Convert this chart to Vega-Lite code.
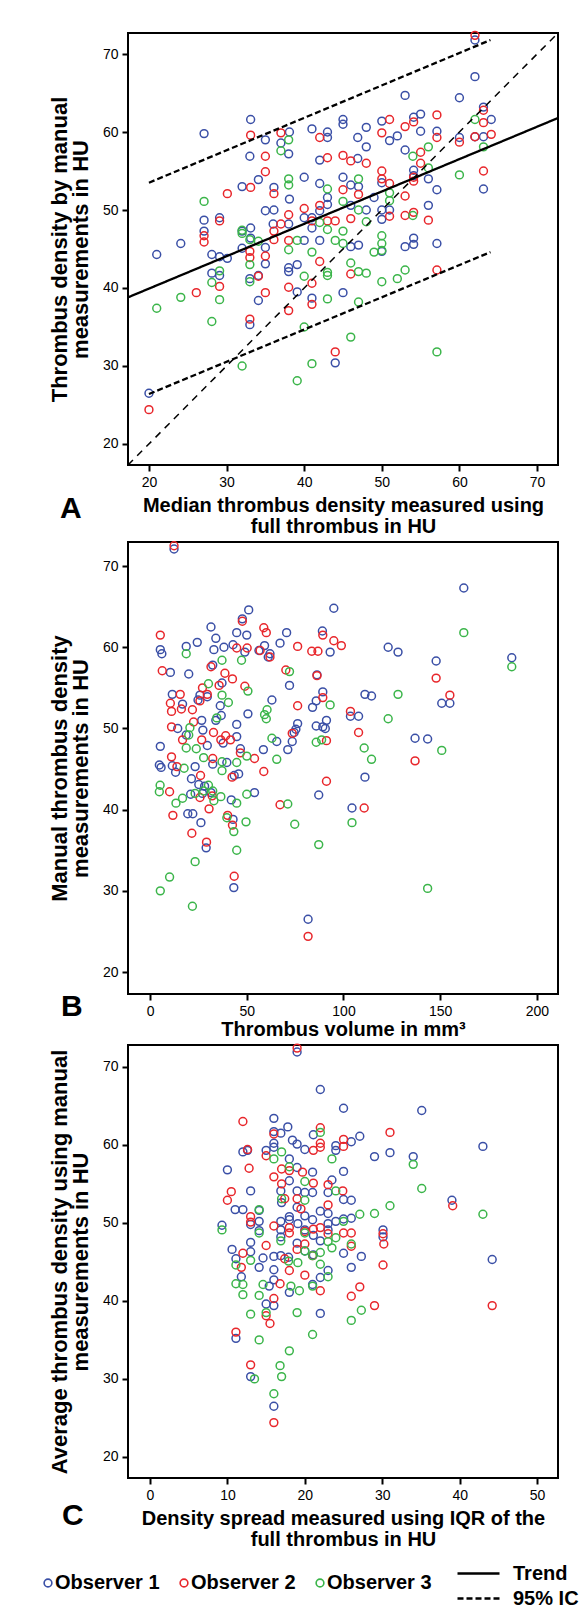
{
"$schema": "https://vega.github.io/schema/vega-lite/v6.json",
"padding": {"left": 38, "top": 27, "right": 4, "bottom": 2},
"background": "white",
"spacing": 0,
"config": {
  "font": "Liberation Sans",
  "view": {"stroke": "black", "strokeWidth": 2},
  "axis": {"grid": false, "domain": false, "tickColor": "black", "tickSize": 6, "tickWidth": 2, "labelFont": "Liberation Sans", "labelFontSize": 14, "labelColor": "black", "labelPadding": 4, "labelFlush": false, "titleFont": "Liberation Sans", "titleFontWeight": "bold", "titleColor": "black"},
  "axisX": {"titleFontSize": 20, "titleLineHeight": 21, "titlePadding": 6},
  "axisY": {"titleFontSize": 22, "titleLineHeight": 21, "titlePadding": 10},
  "legend": {"labelFont": "Liberation Sans", "labelFontSize": 20, "labelFontWeight": "bold", "labelColor": "black", "padding": 0, "titlePadding": 0},
  "title": {"font": "Liberation Sans", "fontSize": 30, "fontWeight": "bold", "color": "black", "orient": "bottom", "anchor": "start", "frame": "group", "offset": 0}
},
"datasets": {
"lines": [
 {"id": "trend", "type": "Trend", "x": 17.3, "y": 38.8},
 {"id": "trend", "type": "Trend", "x": 72.7, "y": 61.8},
 {"id": "up", "type": "95% IC", "x": 20, "y": 53.5},
 {"id": "up", "type": "95% IC", "x": 64, "y": 71.8},
 {"id": "lo", "type": "95% IC", "x": 20, "y": 26.4},
 {"id": "lo", "type": "95% IC", "x": 64, "y": 44.6}
],
"ident": [
 {"x": 17.3, "y": 17.3},
 {"x": 72.7, "y": 72.7}
],
"A": [
{"o":1,"x":21,"y":44.3},{"o":1,"x":24.1,"y":45.7},{"o":1,"x":27.1,"y":59.8},{"o":1,"x":33.1,"y":61.6},{"o":1,"x":33,"y":56.9},{"o":1,"x":32,"y":53},{"o":1,"x":34.1,"y":53.9},{"o":1,"x":35,"y":49.9},{"o":1,"x":36.1,"y":50},{"o":1,"x":29.1,"y":49},{"o":1,"x":27.1,"y":48.7},{"o":1,"x":27.1,"y":47.3},{"o":1,"x":35,"y":59},{"o":1,"x":37,"y":58.6},{"o":1,"x":38.1,"y":60},{"o":1,"x":38,"y":57.2},{"o":1,"x":36.1,"y":52.9},{"o":1,"x":38.1,"y":51.4},{"o":1,"x":40,"y":54.2},{"o":1,"x":41,"y":60.4},{"o":1,"x":43,"y":60},{"o":1,"x":43,"y":59.3},{"o":1,"x":42,"y":56.4},{"o":1,"x":42,"y":53.4},{"o":1,"x":45,"y":61.6},{"o":1,"x":45,"y":61},{"o":1,"x":46.9,"y":59.3},{"o":1,"x":48,"y":60.6},{"o":1,"x":48,"y":58.1},{"o":1,"x":46.9,"y":56.6},{"o":1,"x":45,"y":54.2},{"o":1,"x":46,"y":53.2},{"o":1,"x":47,"y":53},{"o":1,"x":50,"y":61.4},{"o":1,"x":51,"y":58.9},{"o":1,"x":52,"y":59.5},{"o":1,"x":53,"y":64.7},{"o":1,"x":53,"y":57.7},{"o":1,"x":54.1,"y":61.9},{"o":1,"x":55,"y":62.3},{"o":1,"x":55,"y":60.1},{"o":1,"x":57.1,"y":60.1},{"o":1,"x":54.1,"y":55.1},{"o":1,"x":54.1,"y":54.4},{"o":1,"x":56,"y":54},{"o":1,"x":57.1,"y":52.6},{"o":1,"x":50,"y":53.5},{"o":1,"x":50,"y":50},{"o":1,"x":51,"y":50},{"o":1,"x":49,"y":51.6},{"o":1,"x":48,"y":50},{"o":1,"x":46,"y":50.6},{"o":1,"x":43,"y":51.6},{"o":1,"x":43,"y":50.7},{"o":1,"x":42,"y":49.9},{"o":1,"x":41,"y":49},{"o":1,"x":40,"y":49},{"o":1,"x":41,"y":47.7},{"o":1,"x":36,"y":48.2},{"o":1,"x":38,"y":48.2},{"o":1,"x":32,"y":47.3},{"o":1,"x":33.1,"y":47.7},{"o":1,"x":50,"y":48.8},{"o":1,"x":56,"y":50.6},{"o":1,"x":60,"y":64.4},{"o":1,"x":60,"y":59.3},{"o":1,"x":62,"y":67.1},{"o":1,"x":62,"y":59.4},{"o":1,"x":63.1,"y":63.2},{"o":1,"x":63.1,"y":59.4},{"o":1,"x":64.1,"y":61.6},{"o":1,"x":63.1,"y":52.7},{"o":1,"x":62,"y":71.8},{"o":1,"x":40,"y":46.1},{"o":1,"x":42,"y":46.1},{"o":1,"x":46,"y":45.3},{"o":1,"x":47,"y":45.5},{"o":1,"x":53,"y":45.3},{"o":1,"x":54.1,"y":45.6},{"o":1,"x":54.1,"y":46.4},{"o":1,"x":57.1,"y":45.7},{"o":1,"x":50,"y":44.7},{"o":1,"x":32,"y":45.1},{"o":1,"x":33.1,"y":46.4},{"o":1,"x":35,"y":45.2},{"o":1,"x":28.1,"y":44.3},{"o":1,"x":29.1,"y":44},{"o":1,"x":30.1,"y":43.8},{"o":1,"x":35,"y":43.1},{"o":1,"x":28.1,"y":41.9},{"o":1,"x":29.1,"y":41.6},{"o":1,"x":33,"y":41.2},{"o":1,"x":34.1,"y":41.6},{"o":1,"x":38,"y":42.6},{"o":1,"x":38,"y":42.1},{"o":1,"x":39.1,"y":43},{"o":1,"x":34.1,"y":38.4},{"o":1,"x":39.1,"y":39.5},{"o":1,"x":41,"y":38.7},{"o":1,"x":45,"y":39.4},{"o":1,"x":33,"y":35.3},{"o":1,"x":44,"y":30.4},{"o":1,"x":20,"y":26.5},
{"o":2,"x":27.1,"y":46.7},{"o":2,"x":27.1,"y":45.9},{"o":2,"x":29.1,"y":48.6},{"o":2,"x":30.1,"y":52.1},{"o":2,"x":33.1,"y":59.6},{"o":2,"x":33.1,"y":52.9},{"o":2,"x":35,"y":56.9},{"o":2,"x":35,"y":54.9},{"o":2,"x":36.1,"y":52.1},{"o":2,"x":37,"y":59.9},{"o":2,"x":36.1,"y":47.3},{"o":2,"x":36.1,"y":46.2},{"o":2,"x":37,"y":48.2},{"o":2,"x":38,"y":49.4},{"o":2,"x":38,"y":46.1},{"o":2,"x":40,"y":50.2},{"o":2,"x":42,"y":59.3},{"o":2,"x":43,"y":56.7},{"o":2,"x":42,"y":50.6},{"o":2,"x":41,"y":48.6},{"o":2,"x":43,"y":48.6},{"o":2,"x":44,"y":48.6},{"o":2,"x":45,"y":57},{"o":2,"x":46,"y":56.3},{"o":2,"x":48,"y":56},{"o":2,"x":45,"y":52.6},{"o":2,"x":47,"y":52},{"o":2,"x":46,"y":48.9},{"o":2,"x":50,"y":59.9},{"o":2,"x":51,"y":61.6},{"o":2,"x":50,"y":55},{"o":2,"x":50,"y":54},{"o":2,"x":51,"y":53.4},{"o":2,"x":51,"y":49.2},{"o":2,"x":53,"y":60.7},{"o":2,"x":54.1,"y":61.3},{"o":2,"x":54.1,"y":54.2},{"o":2,"x":54.1,"y":53.7},{"o":2,"x":53,"y":51.8},{"o":2,"x":53,"y":49.3},{"o":2,"x":54.1,"y":49.7},{"o":2,"x":55,"y":57.4},{"o":2,"x":55,"y":56},{"o":2,"x":57.1,"y":62.2},{"o":2,"x":57.1,"y":59.3},{"o":2,"x":56,"y":48.7},{"o":2,"x":60,"y":58.7},{"o":2,"x":62,"y":72.4},{"o":2,"x":62,"y":59.4},{"o":2,"x":63.1,"y":62.8},{"o":2,"x":63.1,"y":61.2},{"o":2,"x":64.1,"y":59.7},{"o":2,"x":63.1,"y":55},{"o":2,"x":35,"y":44.1},{"o":2,"x":33,"y":44.7},{"o":2,"x":33,"y":43.9},{"o":2,"x":34.1,"y":41.5},{"o":2,"x":35,"y":39.4},{"o":2,"x":38,"y":40.1},{"o":2,"x":41,"y":40.6},{"o":2,"x":42,"y":43.4},{"o":2,"x":46,"y":41.8},{"o":2,"x":26.1,"y":39.4},{"o":2,"x":29.1,"y":40.2},{"o":2,"x":33,"y":36},{"o":2,"x":38,"y":37.1},{"o":2,"x":41,"y":37.9},{"o":2,"x":44,"y":31.8},{"o":2,"x":57.1,"y":42.3},{"o":2,"x":20,"y":24.4},
{"o":3,"x":27.1,"y":51.1},{"o":3,"x":37,"y":57.6},{"o":3,"x":38,"y":59},{"o":3,"x":38,"y":54},{"o":3,"x":38,"y":53.2},{"o":3,"x":32,"y":47.4},{"o":3,"x":32,"y":47},{"o":3,"x":33,"y":46.2},{"o":3,"x":34.1,"y":46},{"o":3,"x":38,"y":44.9},{"o":3,"x":39.1,"y":46.1},{"o":3,"x":41,"y":44.6},{"o":3,"x":42,"y":48.4},{"o":3,"x":43,"y":52.7},{"o":3,"x":43,"y":47.5},{"o":3,"x":44,"y":46.1},{"o":3,"x":45,"y":51.1},{"o":3,"x":45,"y":47.3},{"o":3,"x":45,"y":45.7},{"o":3,"x":47,"y":54},{"o":3,"x":47,"y":50},{"o":3,"x":48,"y":48.5},{"o":3,"x":49,"y":44.6},{"o":3,"x":50,"y":46.7},{"o":3,"x":50,"y":45.7},{"o":3,"x":50,"y":44.8},{"o":3,"x":51,"y":52.2},{"o":3,"x":51,"y":51.2},{"o":3,"x":54,"y":56.9},{"o":3,"x":54,"y":49.3},{"o":3,"x":56,"y":58.1},{"o":3,"x":56,"y":55.4},{"o":3,"x":60,"y":54.5},{"o":3,"x":62,"y":61.6},{"o":3,"x":63.1,"y":58.1},{"o":3,"x":21,"y":37.4},{"o":3,"x":24.1,"y":38.8},{"o":3,"x":28.1,"y":40.7},{"o":3,"x":28.1,"y":35.7},{"o":3,"x":29.1,"y":42.2},{"o":3,"x":29.1,"y":38.5},{"o":3,"x":33,"y":43},{"o":3,"x":33,"y":40.8},{"o":3,"x":32,"y":30},{"o":3,"x":40,"y":41.5},{"o":3,"x":40,"y":35},{"o":3,"x":41,"y":30.3},{"o":3,"x":39.1,"y":28.1},{"o":3,"x":43,"y":42},{"o":3,"x":43,"y":41.6},{"o":3,"x":43,"y":38.6},{"o":3,"x":46,"y":43.2},{"o":3,"x":46,"y":33.7},{"o":3,"x":47,"y":42.1},{"o":3,"x":48,"y":41.9},{"o":3,"x":47,"y":38.2},{"o":3,"x":52,"y":41.2},{"o":3,"x":53,"y":42.3},{"o":3,"x":50,"y":40.8},{"o":3,"x":57.1,"y":31.8}
],
"B": [
{"o":1,"x":12.4,"y":72.1},{"o":1,"x":162.2,"y":67.3},{"o":1,"x":95,"y":64.8},{"o":1,"x":51,"y":64.6},{"o":1,"x":47.7,"y":63.5},{"o":1,"x":31.5,"y":62.5},{"o":1,"x":34,"y":61.1},{"o":1,"x":44.8,"y":61.8},{"o":1,"x":50,"y":61.5},{"o":1,"x":70.6,"y":61.8},{"o":1,"x":89.1,"y":62},{"o":1,"x":5.3,"y":59.7},{"o":1,"x":6.1,"y":59.2},{"o":1,"x":18.7,"y":60.1},{"o":1,"x":24.4,"y":60.6},{"o":1,"x":33,"y":59.7},{"o":1,"x":38.2,"y":60},{"o":1,"x":42.9,"y":60.3},{"o":1,"x":49,"y":59.4},{"o":1,"x":56.3,"y":59.6},{"o":1,"x":59.2,"y":60.2},{"o":1,"x":62,"y":59.2},{"o":1,"x":61.1,"y":58.8},{"o":1,"x":67.2,"y":60.5},{"o":1,"x":93.1,"y":59.4},{"o":1,"x":123.1,"y":60},{"o":1,"x":128.2,"y":59.4},{"o":1,"x":147.9,"y":58.3},{"o":1,"x":187,"y":58.7},{"o":1,"x":10.5,"y":56.9},{"o":1,"x":20,"y":56.7},{"o":1,"x":32.4,"y":57.8},{"o":1,"x":37.2,"y":55.6},{"o":1,"x":72.1,"y":55.3},{"o":1,"x":86.3,"y":56.6},{"o":1,"x":11.5,"y":54.2},{"o":1,"x":16.8,"y":53},{"o":1,"x":25.8,"y":54.1},{"o":1,"x":29.6,"y":53.9},{"o":1,"x":24.8,"y":53.5},{"o":1,"x":36.3,"y":52.8},{"o":1,"x":36.8,"y":51.6},{"o":1,"x":50.6,"y":51.8},{"o":1,"x":63,"y":53.5},{"o":1,"x":84,"y":52.6},{"o":1,"x":85.9,"y":53.4},{"o":1,"x":89.3,"y":54.5},{"o":1,"x":111.1,"y":54.2},{"o":1,"x":114.5,"y":54},{"o":1,"x":150.8,"y":53.1},{"o":1,"x":155,"y":53.1},{"o":1,"x":103.6,"y":51.5},{"o":1,"x":107.8,"y":51.5},{"o":1,"x":26.7,"y":51},{"o":1,"x":34,"y":51},{"o":1,"x":44.8,"y":50.5},{"o":1,"x":75.4,"y":49.9},{"o":1,"x":76.3,"y":50.6},{"o":1,"x":85.9,"y":50.3},{"o":1,"x":89.3,"y":50.2},{"o":1,"x":91.2,"y":51},{"o":1,"x":90.6,"y":50},{"o":1,"x":5.3,"y":47.8},{"o":1,"x":137,"y":48.8},{"o":1,"x":143.5,"y":48.7},{"o":1,"x":14.3,"y":50},{"o":1,"x":18.7,"y":49.2},{"o":1,"x":27.3,"y":49.8},{"o":1,"x":29.6,"y":47.9},{"o":1,"x":37.8,"y":48.2},{"o":1,"x":44.8,"y":49},{"o":1,"x":46.7,"y":47.5},{"o":1,"x":58.6,"y":47.4},{"o":1,"x":65.5,"y":48.4},{"o":1,"x":71.2,"y":47.4},{"o":1,"x":73.5,"y":48.4},{"o":1,"x":74.5,"y":49.5},{"o":1,"x":4.8,"y":45.5},{"o":1,"x":5.7,"y":45.2},{"o":1,"x":32.4,"y":45.6},{"o":1,"x":39.7,"y":45.8},{"o":1,"x":45.8,"y":44.4},{"o":1,"x":111.1,"y":44},{"o":1,"x":11.5,"y":45.4},{"o":1,"x":13.2,"y":44.6},{"o":1,"x":23.3,"y":45.3},{"o":1,"x":21.4,"y":43.8},{"o":1,"x":25.2,"y":43.1},{"o":1,"x":28.2,"y":42.9},{"o":1,"x":21,"y":41.9},{"o":1,"x":27.1,"y":42},{"o":1,"x":31.5,"y":42.1},{"o":1,"x":42,"y":41.2},{"o":1,"x":43.5,"y":44.2},{"o":1,"x":54,"y":42.1},{"o":1,"x":87.2,"y":41.8},{"o":1,"x":104.4,"y":40.2},{"o":1,"x":19.5,"y":39.5},{"o":1,"x":22.1,"y":39.5},{"o":1,"x":26.3,"y":38.4},{"o":1,"x":42.9,"y":38.8},{"o":1,"x":29,"y":35.3},{"o":1,"x":43.3,"y":30.4},{"o":1,"x":81.7,"y":26.5},
{"o":2,"x":12.4,"y":72.5},{"o":2,"x":5.3,"y":61.5},{"o":2,"x":47.7,"y":63.2},{"o":2,"x":58.8,"y":62.4},{"o":2,"x":60.1,"y":61.8},{"o":2,"x":44.8,"y":59.9},{"o":2,"x":50.2,"y":59.9},{"o":2,"x":56.9,"y":59.6},{"o":2,"x":62,"y":58.8},{"o":2,"x":76.3,"y":60.1},{"o":2,"x":83.6,"y":59.5},{"o":2,"x":86.8,"y":59.5},{"o":2,"x":89.3,"y":61.5},{"o":2,"x":95,"y":60.8},{"o":2,"x":98.9,"y":60.2},{"o":2,"x":6.3,"y":57.1},{"o":2,"x":31.5,"y":57.6},{"o":2,"x":38.7,"y":56.8},{"o":2,"x":42.6,"y":56.1},{"o":2,"x":49,"y":55.2},{"o":2,"x":70.2,"y":57.2},{"o":2,"x":86.3,"y":56.5},{"o":2,"x":147.9,"y":56.2},{"o":2,"x":155,"y":54.1},{"o":2,"x":15.6,"y":54.2},{"o":2,"x":10.5,"y":53.1},{"o":2,"x":11.1,"y":52.1},{"o":2,"x":16.2,"y":52.4},{"o":2,"x":21.9,"y":52.3},{"o":2,"x":27.1,"y":55},{"o":2,"x":29.6,"y":54.2},{"o":2,"x":35.7,"y":55.3},{"o":2,"x":25.8,"y":53.4},{"o":2,"x":76.3,"y":52.8},{"o":2,"x":89.3,"y":53.8},{"o":2,"x":103.6,"y":52.1},{"o":2,"x":11.1,"y":50.2},{"o":2,"x":22.5,"y":50.8},{"o":2,"x":16.8,"y":48.6},{"o":2,"x":26.7,"y":48.6},{"o":2,"x":32.8,"y":49.5},{"o":2,"x":36.6,"y":48.6},{"o":2,"x":39.1,"y":49.1},{"o":2,"x":41.6,"y":48.6},{"o":2,"x":73.5,"y":49.4},{"o":2,"x":91.2,"y":48.5},{"o":2,"x":107.8,"y":49.5},{"o":2,"x":11.1,"y":46.5},{"o":2,"x":32.4,"y":46.3},{"o":2,"x":46.7,"y":47},{"o":2,"x":54,"y":46.3},{"o":2,"x":137,"y":46},{"o":2,"x":58.8,"y":44.7},{"o":2,"x":42.4,"y":44},{"o":2,"x":91.2,"y":43.5},{"o":2,"x":26.1,"y":44.2},{"o":2,"x":13.9,"y":45.3},{"o":2,"x":10.1,"y":42.2},{"o":2,"x":25.8,"y":41.5},{"o":2,"x":32.1,"y":41.7},{"o":2,"x":30.5,"y":40.1},{"o":2,"x":11.8,"y":39.3},{"o":2,"x":40.1,"y":39.3},{"o":2,"x":42.6,"y":38.1},{"o":2,"x":67.2,"y":40.6},{"o":2,"x":110.7,"y":40.2},{"o":2,"x":21.6,"y":37.1},{"o":2,"x":29.2,"y":36},{"o":2,"x":43.5,"y":31.8},{"o":2,"x":81.7,"y":24.4},
{"o":3,"x":162.2,"y":61.8},{"o":3,"x":18.7,"y":59.2},{"o":3,"x":37.2,"y":58.4},{"o":3,"x":47.3,"y":58.4},{"o":3,"x":72.1,"y":57},{"o":3,"x":187,"y":57.6},{"o":3,"x":30.2,"y":55.5},{"o":3,"x":37.2,"y":54.1},{"o":3,"x":50.6,"y":54.6},{"o":3,"x":40.5,"y":53.2},{"o":3,"x":128.2,"y":54.2},{"o":3,"x":93.1,"y":52.9},{"o":3,"x":59.2,"y":51.7},{"o":3,"x":60.5,"y":52.3},{"o":3,"x":60.1,"y":51.2},{"o":3,"x":34.5,"y":51.3},{"o":3,"x":20.6,"y":50.1},{"o":3,"x":20,"y":49.2},{"o":3,"x":123.1,"y":51.2},{"o":3,"x":63,"y":48.8},{"o":3,"x":85.9,"y":48.3},{"o":3,"x":88.7,"y":48.6},{"o":3,"x":110.7,"y":47.6},{"o":3,"x":150.8,"y":47.3},{"o":3,"x":114.5,"y":46.2},{"o":3,"x":65.5,"y":46.2},{"o":3,"x":18.7,"y":47.6},{"o":3,"x":23.9,"y":47.5},{"o":3,"x":27.7,"y":46.4},{"o":3,"x":37.2,"y":45.9},{"o":3,"x":44.8,"y":45.8},{"o":3,"x":50,"y":46.6},{"o":3,"x":17.6,"y":45.1},{"o":3,"x":37.2,"y":44.8},{"o":3,"x":5.2,"y":43},{"o":3,"x":4.8,"y":42.2},{"o":3,"x":13.4,"y":40.8},{"o":3,"x":16.8,"y":41.4},{"o":3,"x":23.3,"y":42},{"o":3,"x":27.7,"y":42.3},{"o":3,"x":30.2,"y":43},{"o":3,"x":32.4,"y":42.3},{"o":3,"x":33,"y":41.1},{"o":3,"x":36.6,"y":41.6},{"o":3,"x":44.8,"y":40.8},{"o":3,"x":50,"y":41.9},{"o":3,"x":71.2,"y":40.7},{"o":3,"x":39.7,"y":39},{"o":3,"x":43.3,"y":37.3},{"o":3,"x":49.6,"y":38.5},{"o":3,"x":74.8,"y":38.2},{"o":3,"x":104.4,"y":38.4},{"o":3,"x":87.2,"y":35.7},{"o":3,"x":44.8,"y":35},{"o":3,"x":23.3,"y":33.6},{"o":3,"x":10.1,"y":31.7},{"o":3,"x":5.3,"y":30},{"o":3,"x":21.9,"y":28.1},{"o":3,"x":143.5,"y":30.3}
],
"C": [
{"o":1,"x":19,"y":71.9},{"o":1,"x":22,"y":67.1},{"o":1,"x":25,"y":64.7},{"o":1,"x":35.1,"y":64.4},{"o":1,"x":16,"y":63.4},{"o":1,"x":16,"y":61.7},{"o":1,"x":17.8,"y":62.3},{"o":1,"x":16.9,"y":61.5},{"o":1,"x":21.1,"y":61.3},{"o":1,"x":27.1,"y":61.1},{"o":1,"x":16,"y":60.2},{"o":1,"x":16,"y":59.7},{"o":1,"x":18.4,"y":60.6},{"o":1,"x":19,"y":60.1},{"o":1,"x":20,"y":59.4},{"o":1,"x":12,"y":59.1},{"o":1,"x":12.6,"y":59.3},{"o":1,"x":15,"y":59.3},{"o":1,"x":24,"y":59.9},{"o":1,"x":24,"y":59.3},{"o":1,"x":26,"y":60.4},{"o":1,"x":29,"y":58.5},{"o":1,"x":31,"y":59},{"o":1,"x":34,"y":58.5},{"o":1,"x":43,"y":59.8},{"o":1,"x":10,"y":56.8},{"o":1,"x":18,"y":58.2},{"o":1,"x":19,"y":57.1},{"o":1,"x":21,"y":56.5},{"o":1,"x":25,"y":56.6},{"o":1,"x":18,"y":55.4},{"o":1,"x":19,"y":54.1},{"o":1,"x":20,"y":53.9},{"o":1,"x":21,"y":53.9},{"o":1,"x":23,"y":53.9},{"o":1,"x":23.5,"y":55.5},{"o":1,"x":16.9,"y":54.1},{"o":1,"x":13,"y":54.1},{"o":1,"x":17,"y":52.6},{"o":1,"x":25,"y":53},{"o":1,"x":26,"y":52.9},{"o":1,"x":39,"y":52.9},{"o":1,"x":11,"y":51.7},{"o":1,"x":12,"y":51.7},{"o":1,"x":14.1,"y":51.6},{"o":1,"x":18,"y":50.8},{"o":1,"x":19,"y":52},{"o":1,"x":20,"y":50.9},{"o":1,"x":22,"y":51.5},{"o":1,"x":23,"y":51.2},{"o":1,"x":9.3,"y":49.7},{"o":1,"x":13,"y":49.8},{"o":1,"x":14.1,"y":50.2},{"o":1,"x":16.9,"y":50.2},{"o":1,"x":18,"y":50.4},{"o":1,"x":19.1,"y":49.9},{"o":1,"x":21,"y":50.4},{"o":1,"x":23,"y":49.9},{"o":1,"x":24,"y":50.2},{"o":1,"x":25,"y":50.5},{"o":1,"x":26,"y":50.6},{"o":1,"x":30.1,"y":49.1},{"o":1,"x":30.1,"y":48.2},{"o":1,"x":14.1,"y":49},{"o":1,"x":16.9,"y":49.1},{"o":1,"x":16.9,"y":48.2},{"o":1,"x":20,"y":49.1},{"o":1,"x":21.1,"y":48.4},{"o":1,"x":23,"y":49.1},{"o":1,"x":22,"y":47.7},{"o":1,"x":13,"y":47.5},{"o":1,"x":19,"y":47.4},{"o":1,"x":10.6,"y":46.6},{"o":1,"x":11.1,"y":45.4},{"o":1,"x":13,"y":46.3},{"o":1,"x":14.6,"y":45.5},{"o":1,"x":16,"y":45.7},{"o":1,"x":16.9,"y":45.8},{"o":1,"x":17.9,"y":45.6},{"o":1,"x":20,"y":46.4},{"o":1,"x":21.1,"y":45.9},{"o":1,"x":25,"y":46.1},{"o":1,"x":27.3,"y":45.7},{"o":1,"x":44.2,"y":45.3},{"o":1,"x":14.1,"y":44.3},{"o":1,"x":16,"y":44},{"o":1,"x":23,"y":43.9},{"o":1,"x":26,"y":44.3},{"o":1,"x":11.8,"y":43.1},{"o":1,"x":22,"y":43},{"o":1,"x":16,"y":42.7},{"o":1,"x":15.4,"y":41.9},{"o":1,"x":18,"y":41.1},{"o":1,"x":21,"y":42.1},{"o":1,"x":15,"y":39.6},{"o":1,"x":16,"y":39.4},{"o":1,"x":22,"y":38.4},{"o":1,"x":11.1,"y":35.2},{"o":1,"x":13,"y":30.3},{"o":1,"x":16,"y":26.5},
{"o":2,"x":19,"y":72.4},{"o":2,"x":12,"y":63},{"o":2,"x":16,"y":61.4},{"o":2,"x":22,"y":62.2},{"o":2,"x":22,"y":60.2},{"o":2,"x":22,"y":59.7},{"o":2,"x":25,"y":60.7},{"o":2,"x":25,"y":59.8},{"o":2,"x":31,"y":61.6},{"o":2,"x":12.6,"y":59.4},{"o":2,"x":15,"y":58.6},{"o":2,"x":21.1,"y":59.3},{"o":2,"x":12.8,"y":57},{"o":2,"x":16,"y":55.9},{"o":2,"x":17,"y":56.9},{"o":2,"x":18,"y":56.7},{"o":2,"x":19.7,"y":56.5},{"o":2,"x":17,"y":55},{"o":2,"x":21.1,"y":55.1},{"o":2,"x":23,"y":54.9},{"o":2,"x":24.9,"y":54.1},{"o":2,"x":10.5,"y":54},{"o":2,"x":10,"y":52.9},{"o":2,"x":17.4,"y":53.1},{"o":2,"x":19,"y":53.1},{"o":2,"x":19.5,"y":51.8},{"o":2,"x":23,"y":52.3},{"o":2,"x":13,"y":50.8},{"o":2,"x":13,"y":50.1},{"o":2,"x":16,"y":49.6},{"o":2,"x":18,"y":49.4},{"o":2,"x":18,"y":48.7},{"o":2,"x":20,"y":48.9},{"o":2,"x":21.1,"y":49.2},{"o":2,"x":22,"y":49.4},{"o":2,"x":23,"y":48.6},{"o":2,"x":25,"y":48.7},{"o":2,"x":26,"y":48.7},{"o":2,"x":30.1,"y":48.6},{"o":2,"x":30.2,"y":47.3},{"o":2,"x":39.1,"y":52.2},{"o":2,"x":12,"y":46.1},{"o":2,"x":15,"y":47.1},{"o":2,"x":19,"y":46.6},{"o":2,"x":20,"y":47.3},{"o":2,"x":21,"y":45.8},{"o":2,"x":26,"y":47},{"o":2,"x":11.8,"y":44.3},{"o":2,"x":17.4,"y":45.4},{"o":2,"x":30.1,"y":44.6},{"o":2,"x":18,"y":43.9},{"o":2,"x":20,"y":43.3},{"o":2,"x":16.8,"y":42.2},{"o":2,"x":22,"y":41.3},{"o":2,"x":27.1,"y":41.8},{"o":2,"x":26,"y":40.6},{"o":2,"x":29,"y":39.4},{"o":2,"x":44.2,"y":39.4},{"o":2,"x":16,"y":40.3},{"o":2,"x":15,"y":38.1},{"o":2,"x":15.5,"y":37.1},{"o":2,"x":11.1,"y":36},{"o":2,"x":13,"y":31.8},{"o":2,"x":16,"y":24.4},
{"o":3,"x":22,"y":61.6},{"o":3,"x":16,"y":58.2},{"o":3,"x":17,"y":59.1},{"o":3,"x":23.5,"y":58.2},{"o":3,"x":34,"y":57.5},{"o":3,"x":18,"y":57.2},{"o":3,"x":20,"y":55.3},{"o":3,"x":24,"y":54.1},{"o":3,"x":35.1,"y":54.4},{"o":3,"x":17,"y":53.1},{"o":3,"x":20,"y":52.9},{"o":3,"x":31,"y":52.2},{"o":3,"x":29,"y":51.2},{"o":3,"x":27.1,"y":51.1},{"o":3,"x":43,"y":51.1},{"o":3,"x":14.1,"y":51.7},{"o":3,"x":9.3,"y":49.1},{"o":3,"x":14.1,"y":48.7},{"o":3,"x":20,"y":48.7},{"o":3,"x":25,"y":50.2},{"o":3,"x":24,"y":48.1},{"o":3,"x":23,"y":47.6},{"o":3,"x":16.9,"y":47.7},{"o":3,"x":26,"y":47.3},{"o":3,"x":20,"y":46.4},{"o":3,"x":21,"y":45.8},{"o":3,"x":22,"y":46.2},{"o":3,"x":23.5,"y":46.8},{"o":3,"x":11.1,"y":44.6},{"o":3,"x":13,"y":45.2},{"o":3,"x":17.9,"y":45.1},{"o":3,"x":19.1,"y":44.9},{"o":3,"x":22,"y":44.7},{"o":3,"x":23,"y":43.1},{"o":3,"x":11.1,"y":42.2},{"o":3,"x":12,"y":42.1},{"o":3,"x":14.6,"y":42.1},{"o":3,"x":18.2,"y":41.9},{"o":3,"x":19.3,"y":41.3},{"o":3,"x":21,"y":41.9},{"o":3,"x":12,"y":40.8},{"o":3,"x":14.1,"y":40.7},{"o":3,"x":13,"y":38.3},{"o":3,"x":19,"y":38.5},{"o":3,"x":26,"y":37.5},{"o":3,"x":27.3,"y":38.8},{"o":3,"x":15,"y":38.5},{"o":3,"x":21,"y":35.7},{"o":3,"x":14.1,"y":35},{"o":3,"x":18,"y":33.6},{"o":3,"x":16.8,"y":31.7},{"o":3,"x":17,"y":30.3},{"o":3,"x":13.5,"y":30},{"o":3,"x":16,"y":28.1}
]
},
"resolve": {"scale": {"color": "shared"}, "legend": {"color": "shared"}},
"vconcat": [
{
 "width": 430, "height": 432,
 "title": {"text": "A", "dx": -68, "dy": -46},
 "encoding": {
  "x": {"field": "x", "type": "quantitative", "scale": {"domain": [17.3, 72.7], "nice": false, "zero": false}, "axis": {"values": [20, 30, 40, 50, 60, 70], "title": ["Median thrombus density measured using", "full thrombus in HU"]}},
  "y": {"field": "y", "type": "quantitative", "scale": {"domain": [17.3, 72.7], "nice": false, "zero": false}, "axis": {"values": [20, 30, 40, 50, 60, 70], "title": ["Thrombus density by manual", "measurements in HU"]}}
 },
 "layer": [
  {"data": {"name": "A"}, "mark": {"type": "point", "shape": "circle", "filled": false, "size": 62, "strokeWidth": 1.5, "opacity": 1},
   "encoding": {"color": {"field": "o", "type": "nominal", "scale": {"domain": [1, 2, 3], "range": ["#3a4fa6", "#e8262b", "#3bb54a"]}, "legend": {"orient": "none", "legendX": -90, "legendY": 1540, "direction": "horizontal", "columns": 3, "title": null, "labelExpr": "'Observer ' + datum.label", "symbolSize": 60, "symbolStrokeWidth": 1.6, "labelOffset": -3, "columnPadding": 14}}}},
  {"data": {"name": "lines"}, "mark": {"type": "line", "color": "black", "strokeWidth": 2.3},
   "encoding": {"detail": {"field": "id"}, "strokeDash": {"field": "type", "type": "nominal", "scale": {"domain": ["Trend", "95% IC"], "range": [[1, 0], [6, 3]]}, "legend": {"orient": "none", "legendX": 338.5, "legendY": 1528.5, "direction": "vertical", "title": null, "symbolType": "M-2,0H2", "symbolSize": 441, "symbolStrokeWidth": 2.5, "symbolStrokeColor": "black", "labelOffset": 22.5, "rowPadding": 3}}}},
  {"data": {"name": "ident"}, "mark": {"type": "line", "color": "black", "strokeWidth": 1.5, "strokeDash": [7, 6]}, "encoding": {}}
 ]
},
{
 "width": 430, "height": 452,
 "title": {"text": "B", "dx": -67, "dy": -51},
 "data": {"name": "B"},
 "mark": {"type": "point", "shape": "circle", "filled": false, "size": 62, "strokeWidth": 1.5, "opacity": 1},
 "encoding": {
  "x": {"field": "x", "type": "quantitative", "scale": {"domain": [-11.4, 210.9], "nice": false, "zero": false}, "axis": {"values": [0, 50, 100, 150, 200], "title": "Thrombus volume in mm³", "titlePadding": 1}},
  "y": {"field": "y", "type": "quantitative", "scale": {"domain": [17.3, 72.96], "nice": false, "zero": false}, "axis": {"values": [20, 30, 40, 50, 60, 70], "title": ["Manual thrombus density", "measurements in HU"]}},
  "color": {"field": "o", "type": "nominal", "scale": {"domain": [1, 2, 3], "range": ["#3a4fa6", "#e8262b", "#3bb54a"]}, "legend": {"orient": "none", "legendX": -90, "legendY": 1540, "direction": "horizontal", "columns": 3, "title": null, "labelExpr": "'Observer ' + datum.label", "symbolSize": 60, "symbolStrokeWidth": 1.6, "labelOffset": -3, "columnPadding": 14}}
 }
},
{
 "width": 430, "height": 433,
 "title": {"text": "C", "dx": -66, "dy": -52},
 "data": {"name": "C"},
 "mark": {"type": "point", "shape": "circle", "filled": false, "size": 62, "strokeWidth": 1.5, "opacity": 1},
 "encoding": {
  "x": {"field": "x", "type": "quantitative", "scale": {"domain": [-2.84, 52.7], "nice": false, "zero": false}, "axis": {"values": [0, 10, 20, 30, 40, 50], "title": ["Density spread measured using IQR of the", "full thrombus in HU"]}},
  "y": {"field": "y", "type": "quantitative", "scale": {"domain": [17.3, 72.8], "nice": false, "zero": false}, "axis": {"values": [20, 30, 40, 50, 60, 70], "title": ["Average thrombus density using manual", "measurements in HU"]}},
  "color": {"field": "o", "type": "nominal", "scale": {"domain": [1, 2, 3], "range": ["#3a4fa6", "#e8262b", "#3bb54a"]}, "legend": {"orient": "none", "legendX": -90, "legendY": 1540, "direction": "horizontal", "columns": 3, "title": null, "labelExpr": "'Observer ' + datum.label", "symbolSize": 60, "symbolStrokeWidth": 1.6, "labelOffset": -3, "columnPadding": 14}}
 }
}
]
}
